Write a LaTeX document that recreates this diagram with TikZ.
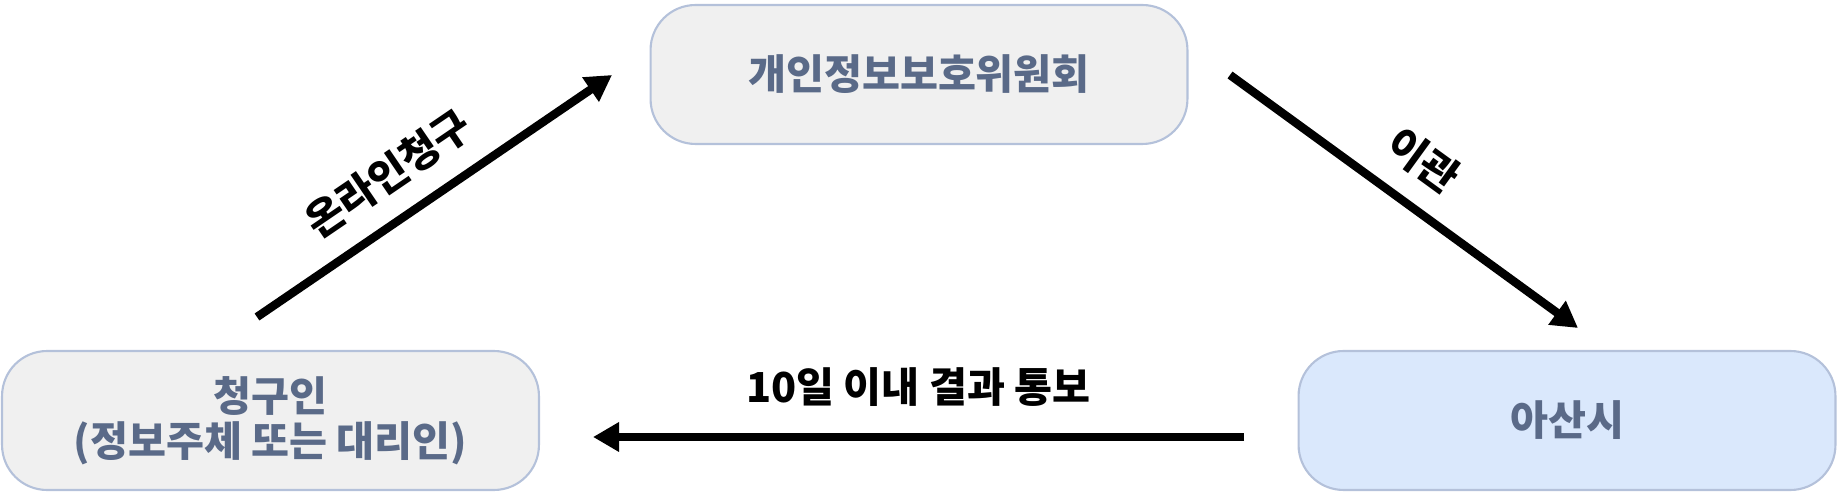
\documentclass[tikz,border=0pt]{standalone}
\usepackage{fontspec}
\setmainfont{Noto Sans CJK KR}
\usetikzlibrary{arrows.meta}
\definecolor{boxline}{HTML}{B4C1DA}
\definecolor{boxtext}{HTML}{5A6A88}
\definecolor{boxgray}{HTML}{F0F0F0}
\definecolor{boxblue}{HTML}{DAE8FC}

\begin{document}
\begin{tikzpicture}[x=0.02cm, y=-0.02cm,
		boxnode/.style={draw=boxline, line width=1.2pt, rounded corners=0.9cm,
			minimum width=10.74cm, minimum height=2.78cm, inner sep=0pt,
			text=boxtext, align=center,
			font=\fontsize{23.5pt}{25.5pt}\selectfont\bfseries},
		flow/.style={line width=4.8pt, -{Triangle[length=0.52cm, width=0.56cm]}},
		flowlabel/.style={font=\fontsize{23.5pt}{26pt}\selectfont\bfseries}]
				      \useasboundingbox (0, 0) rectangle (1838, 492);
				      \node[boxnode, fill=boxgray] (claimant) at (270.5, 420.5) {청구인\\(정보주체 또는 대리인)};
				      \node[boxnode, fill=boxgray] (pipc) at (919, 74.5) {개인정보보호위원회};
				      \node[boxnode, fill=boxblue] (asan) at (1567, 420.5) {아산시};
				      \coordinate (online start) at (257, 317);
				      \coordinate (online end) at (612, 75);
				      \coordinate (transfer start) at (1230, 75);
				      \coordinate (transfer end) at (1578, 328);
				      \coordinate (notice start) at (1244, 437);
				      \coordinate (notice end) at (593, 437);
				      \draw[flow] (online start) -- (online end) node[flowlabel, pos=0.44, sloped, above=0.3cm] (online label) {온라인청구};
				      \draw[flow] (transfer start) -- (transfer end) node[flowlabel, pos=0.48, sloped, above=0.3cm] (transfer label) {이관};
				      \draw[flow] (notice start) -- (notice end) node[flowlabel, pos=0.5, above=0.4cm] (notice label) {10일 이내 결과 통보};
			      \end{tikzpicture}
\end{document}
